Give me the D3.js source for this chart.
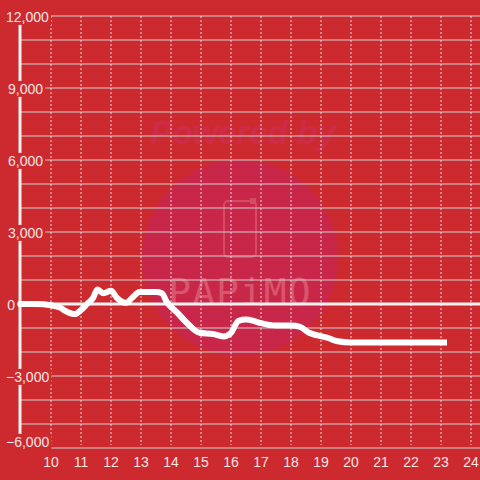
<!DOCTYPE html>
<html><head><meta charset="utf-8">
<script src="https://cdn.jsdelivr.net/npm/d3@7"></script>
<style>html,body{margin:0;padding:0;background:#cd2a2f;}svg{display:block;}</style>
</head><body>
<script>
const hours  = [9.0, 9.5, 10.0, 10.3, 10.5, 10.8, 11.0, 11.2, 11.4, 11.55, 11.75, 12.0, 12.2, 12.5, 12.7, 12.95, 13.5, 13.7, 13.85, 14.2, 14.5, 14.95, 15.4, 15.75, 16.0, 16.25, 16.5, 16.75, 17.0, 17.5, 18.0, 18.3, 18.6, 18.85, 19.2, 19.55, 20.0, 23.1];
const values = [0, 0, -50, -150, -300, -420, -250, 0, 250, 600, 450, 550, 250, 50, 250, 500, 500, 450, 100, -350, -750, -1200, -1250, -1350, -1200, -700, -650, -700, -800, -900, -900, -950, -1200, -1300, -1400, -1550, -1600, -1600];
const xTickValues = [10, 11, 12, 13, 14, 15, 16, 17, 18, 19, 20, 21, 22, 23, 24];
const yLabelValues = [-6000, -3000, 0, 3000, 6000, 9000, 12000];
const yGridValues = [-6000, -5000, -4000, -3000, -2000, -1000, 1000, 2000, 3000, 4000, 5000, 6000, 7000, 8000, 9000, 10000, 11000, 12000];

const W = 480, H = 480;
const bg = "#cd2a2f";
const svg = d3.select("body").append("svg").attr("width", W).attr("height", H)
  .style("font-family", "'Liberation Sans', Arial, sans-serif");
svg.append("rect").attr("width", W).attr("height", H).attr("fill", bg);

const x = d3.scaleLinear().domain([10, 24]).range([51, 471]);
const y = d3.scaleLinear().domain([-6000, 12000]).range([448, 16]);

// watermark
const wm = svg.append("g");
wm.append("circle").attr("cx", 240).attr("cy", 258).attr("r", 98).attr("fill", "#c9274a");
wm.append("text").attr("x", 243).attr("y", 144).attr("text-anchor", "middle")
  .attr("font-size", 33).attr("font-weight", "bold").attr("font-style", "italic")
  .attr("fill", "#cc2c48").text("Powered by");
wm.append("rect").attr("x", 224).attr("y", 201).attr("width", 32).attr("height", 56).attr("rx", 4)
  .attr("fill", "none").attr("stroke", "#d64a62").attr("stroke-width", 2);
wm.append("rect").attr("x", 250).attr("y", 198).attr("width", 6).attr("height", 6)
  .attr("fill", "#d64a62");
wm.append("text").attr("x", 240).attr("y", 305).attr("text-anchor", "middle")
  .attr("font-size", 38).attr("font-family", "'DejaVu Sans Mono', monospace").attr("letter-spacing", 1)
  .attr("fill", "#d8566b").text("PAPiMO");

// horizontal grid
svg.append("g").selectAll("line").data(yGridValues).join("line")
  .attr("x1", 20).attr("x2", W).attr("y1", d => y(d)).attr("y2", d => y(d))
  .attr("stroke", "#cfcfcf").attr("stroke-width", 1.2);
// vertical dotted grid
svg.append("g").selectAll("line").data(xTickValues).join("line")
  .attr("x1", d => x(d)).attr("x2", d => x(d)).attr("y1", y(12000)).attr("y2", 445)
  .attr("stroke", "#dddddd").attr("stroke-width", 1).attr("stroke-dasharray", "2,2");

// y axis line
svg.append("line").attr("x1", 20).attr("x2", 20).attr("y1", y(12000)).attr("y2", y(-6000))
  .attr("stroke", "#f2f2f2").attr("stroke-width", 3);
// zero line
svg.append("line").attr("x1", 17).attr("x2", W).attr("y1", y(0)).attr("y2", y(0))
  .attr("stroke", "#f2f2f2").attr("stroke-width", 3);

// data line
const line = d3.line().x((d, i) => x(hours[i])).y(d => y(d)).curve(d3.curveMonotoneX);
svg.append("path").attr("d", line(values)).attr("fill", "none")
  .attr("stroke", "#ffffff").attr("stroke-width", 6).attr("stroke-linejoin", "round").attr("stroke-linecap", "square");

// y labels with background
const fmt = d3.format(",");
const yl = svg.append("g");
yLabelValues.forEach(v => {
  const g = yl.append("g");
  const rect = g.append("rect").attr("fill", bg);
  const cy = Math.max(17, Math.min(442, y(v) + 1));
  const t = g.append("text").attr("y", cy).attr("dy", "0.35em")
    .attr("font-size", 14).attr("fill", "#f3e6e6").text(fmt(v));
  const w = t.node().getComputedTextLength();
  let right = v === 0 ? 15 : 43;
  let left = right - w;
  if (left < 6) left = 6;
  t.attr("x", left);
  const bb = t.node().getBBox();
  rect.attr("x", bb.x - 2).attr("y", bb.y).attr("width", bb.width + 4).attr("height", bb.height);
});

// x labels
svg.append("g").selectAll("text").data(xTickValues).join("text")
  .attr("x", d => x(d)).attr("y", 462).attr("dy", "0.35em").attr("text-anchor", "middle")
  .attr("font-size", 14).attr("fill", "#f3e6e6").text(d => d);
</script>
</body></html>
